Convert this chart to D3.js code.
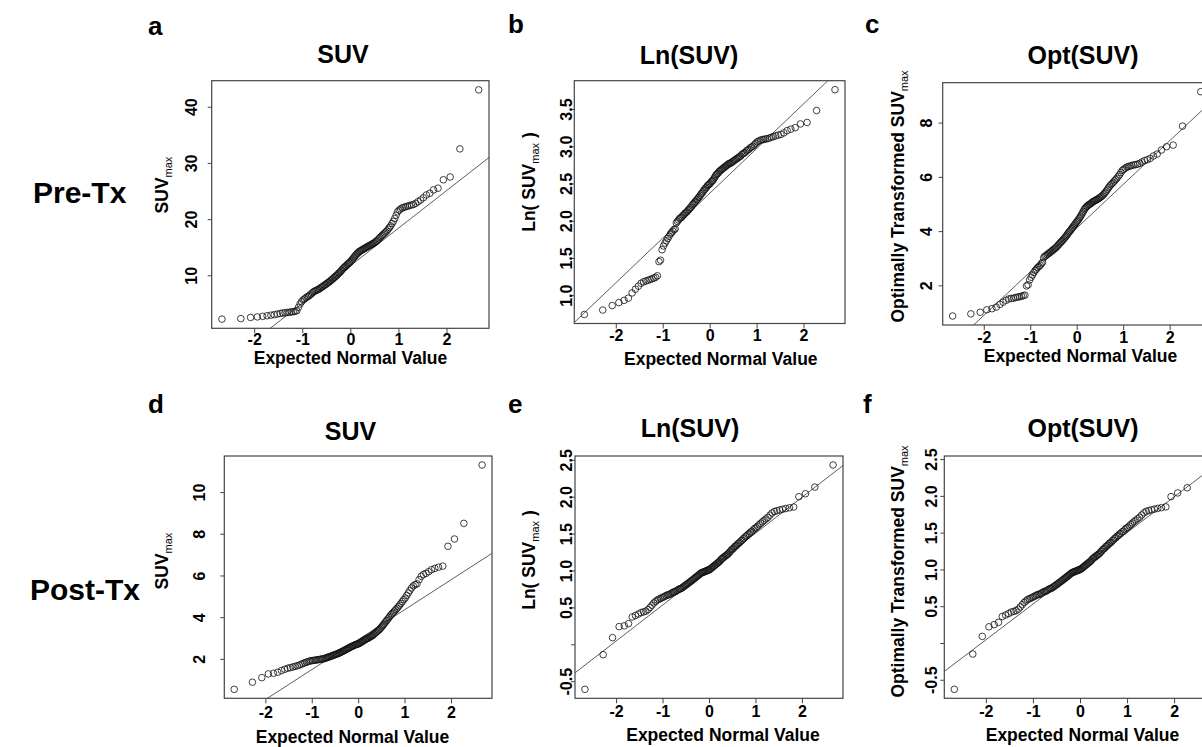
<!DOCTYPE html>
<html>
<head>
<meta charset="utf-8">
<script src="https://cdnjs.cloudflare.com/ajax/libs/d3/7.8.5/d3.min.js"></script>
<style>
body { margin: 0; background: #fff; }
svg { display: block; }
</style>
</head>
<body>
<svg id="chart" width="1202" height="747"></svg>
<script>
// sorted sample values (n = 132 per panel)
var preSuv = [
	2.2, 2.3, 2.5, 2.6, 2.7, 2.8, 2.9, 3.0, 3.1, 3.2,
	3.3, 3.3, 3.4, 3.4, 3.5, 3.5, 3.6, 3.7, 4.3, 4.9,
	5.3, 5.6, 5.8, 6.0, 6.2, 6.3, 6.5, 6.7, 6.9, 7.1,
	7.2, 7.3, 7.4, 7.5, 7.6, 7.8, 7.9, 8.0, 8.2, 8.3,
	8.4, 8.6, 8.7, 8.8, 9.0, 9.1, 9.3, 9.4, 9.6, 9.7,
	9.9, 10.0, 10.2, 10.4, 10.5, 10.7, 10.9, 11.1, 11.3, 11.4,
	11.6, 11.7, 11.9, 12.0, 12.2, 12.3, 12.5, 12.7, 12.9, 13.1,
	13.3, 13.5, 13.7, 13.9, 14.0, 14.2, 14.3, 14.4, 14.5, 14.6,
	14.7, 14.8, 14.9, 15.0, 15.1, 15.2, 15.3, 15.4, 15.5, 15.6,
	15.7, 15.8, 16.0, 16.1, 16.3, 16.5, 16.7, 16.9, 17.1, 17.3,
	17.5, 17.7, 17.9, 18.2, 18.5, 18.8, 19.2, 19.6, 20.1, 20.7,
	21.3, 21.6, 21.8, 22.0, 22.1, 22.2, 22.3, 22.4, 22.5, 22.6,
	22.8, 23.1, 23.4, 23.8, 24.3, 24.6, 25.2, 25.5, 27.0, 27.5, 32.5, 43.0
];
var preLn = [
	0.74, 0.80, 0.86, 0.90, 0.93, 0.96, 1.03, 1.08, 1.12, 1.16,
	1.18, 1.19, 1.20, 1.21, 1.22, 1.23, 1.24, 1.26, 1.45, 1.47,
	1.61, 1.66, 1.70, 1.73, 1.76, 1.79, 1.82, 1.84, 1.86, 1.88,
	1.89, 1.97, 1.99, 2.01, 2.03, 2.04, 2.05, 2.07, 2.08, 2.10,
	2.11, 2.12, 2.14, 2.15, 2.17, 2.18, 2.20, 2.22, 2.23, 2.25,
	2.26, 2.28, 2.29, 2.31, 2.32, 2.34, 2.36, 2.37, 2.39, 2.41,
	2.42, 2.44, 2.45, 2.47, 2.48, 2.49, 2.50, 2.52, 2.53, 2.54,
	2.56, 2.58, 2.60, 2.62, 2.63, 2.64, 2.66, 2.67, 2.68, 2.69,
	2.70, 2.71, 2.72, 2.73, 2.74, 2.75, 2.76, 2.77, 2.77, 2.78,
	2.79, 2.80, 2.81, 2.82, 2.83, 2.84, 2.85, 2.86, 2.87, 2.89,
	2.90, 2.91, 2.92, 2.94, 2.95, 2.96, 2.98, 2.99, 3.00, 3.02,
	3.04, 3.06, 3.07, 3.08, 3.09, 3.09, 3.10, 3.10, 3.11, 3.12,
	3.13, 3.14, 3.15, 3.16, 3.18, 3.21, 3.23, 3.25, 3.30, 3.32, 3.48, 3.76
];
var preOpt = [
	0.87, 0.95, 1.01, 1.10, 1.14, 1.20, 1.30, 1.38, 1.45, 1.50,
	1.52, 1.53, 1.55, 1.57, 1.58, 1.60, 1.62, 1.64, 1.98, 2.02,
	2.20, 2.30, 2.38, 2.47, 2.55, 2.60, 2.66, 2.70, 2.74, 2.80,
	2.85, 3.02, 3.07, 3.10, 3.13, 3.16, 3.19, 3.22, 3.25, 3.28,
	3.31, 3.34, 3.37, 3.40, 3.44, 3.48, 3.52, 3.56, 3.60, 3.63,
	3.67, 3.71, 3.75, 3.79, 3.83, 3.88, 3.93, 3.97, 4.01, 4.05,
	4.10, 4.14, 4.19, 4.23, 4.27, 4.32, 4.36, 4.40, 4.45, 4.50,
	4.55, 4.61, 4.67, 4.73, 4.79, 4.84, 4.88, 4.91, 4.94, 4.97,
	4.99, 5.01, 5.04, 5.07, 5.09, 5.11, 5.13, 5.15, 5.17, 5.19,
	5.22, 5.24, 5.27, 5.30, 5.34, 5.38, 5.43, 5.48, 5.54, 5.60,
	5.66, 5.71, 5.75, 5.80, 5.85, 5.90, 5.95, 6.02, 6.08, 6.16,
	6.24, 6.28, 6.32, 6.36, 6.38, 6.40, 6.42, 6.44, 6.45, 6.47,
	6.50, 6.55, 6.60, 6.63, 6.68, 6.77, 6.84, 6.99, 7.11, 7.17, 7.87, 9.14
];
var postSuv = [
	0.54, 0.88, 1.10, 1.28, 1.31, 1.36, 1.44, 1.50, 1.55, 1.58,
	1.61, 1.64, 1.67, 1.70, 1.74, 1.78, 1.81, 1.84, 1.87, 1.89,
	1.91, 1.92, 1.93, 1.94, 1.95, 1.96, 1.97, 1.98, 1.99, 2.00,
	2.01, 2.03, 2.05, 2.07, 2.09, 2.10, 2.12, 2.14, 2.16, 2.18,
	2.20, 2.21, 2.23, 2.25, 2.27, 2.29, 2.31, 2.34, 2.36, 2.38,
	2.41, 2.43, 2.45, 2.48, 2.50, 2.52, 2.55, 2.57, 2.59, 2.61,
	2.63, 2.65, 2.67, 2.69, 2.70, 2.71, 2.73, 2.75, 2.78, 2.80,
	2.83, 2.86, 2.89, 2.91, 2.94, 2.96, 2.98, 3.00, 3.03, 3.06,
	3.08, 3.11, 3.14, 3.18, 3.22, 3.26, 3.30, 3.34, 3.38, 3.42,
	3.47, 3.53, 3.59, 3.65, 3.71, 3.78, 3.84, 3.91, 3.98, 4.05,
	4.12, 4.18, 4.24, 4.30, 4.36, 4.43, 4.50, 4.58, 4.66, 4.75,
	4.84, 4.92, 5.04, 5.16, 5.28, 5.40, 5.50, 5.56, 5.60, 5.80,
	5.96, 6.05, 6.10, 6.18, 6.28, 6.34, 6.40, 6.45, 7.40, 7.75, 8.50, 11.30
];
var postLn = [
	-0.61, -0.14, 0.09, 0.24, 0.25, 0.28, 0.37, 0.39, 0.41, 0.43,
	0.44, 0.45, 0.47, 0.50, 0.53, 0.56, 0.58, 0.60, 0.61, 0.62,
	0.63, 0.64, 0.65, 0.66, 0.67, 0.67, 0.68, 0.69, 0.70, 0.71,
	0.71, 0.72, 0.73, 0.74, 0.75, 0.75, 0.76, 0.77, 0.78, 0.79,
	0.80, 0.81, 0.82, 0.83, 0.84, 0.85, 0.86, 0.87, 0.88, 0.89,
	0.90, 0.91, 0.92, 0.93, 0.94, 0.95, 0.96, 0.97, 0.97, 0.98,
	0.98, 0.99, 0.99, 1.00, 1.00, 1.01, 1.01, 1.02, 1.03, 1.04,
	1.05, 1.06, 1.07, 1.08, 1.09, 1.10, 1.11, 1.12, 1.13, 1.15,
	1.16, 1.17, 1.18, 1.19, 1.20, 1.21, 1.22, 1.23, 1.25, 1.26,
	1.28, 1.29, 1.30, 1.32, 1.33, 1.34, 1.36, 1.37, 1.38, 1.40,
	1.41, 1.43, 1.44, 1.46, 1.47, 1.49, 1.50, 1.52, 1.53, 1.55,
	1.57, 1.58, 1.60, 1.62, 1.64, 1.66, 1.68, 1.70, 1.72, 1.75,
	1.78, 1.80, 1.81, 1.82, 1.83, 1.84, 1.85, 1.86, 2.00, 2.04, 2.13, 2.43
];
var postOpt = [
	-0.63, -0.15, 0.09, 0.22, 0.25, 0.28, 0.36, 0.38, 0.40, 0.42,
	0.43, 0.44, 0.46, 0.49, 0.52, 0.55, 0.57, 0.59, 0.60, 0.61,
	0.62, 0.63, 0.64, 0.65, 0.66, 0.66, 0.67, 0.68, 0.69, 0.70,
	0.70, 0.71, 0.72, 0.73, 0.74, 0.74, 0.75, 0.76, 0.77, 0.78,
	0.79, 0.80, 0.81, 0.82, 0.83, 0.84, 0.85, 0.86, 0.87, 0.88,
	0.89, 0.90, 0.91, 0.92, 0.93, 0.94, 0.95, 0.96, 0.96, 0.97,
	0.97, 0.98, 0.98, 0.99, 0.99, 1.00, 1.00, 1.01, 1.02, 1.03,
	1.04, 1.05, 1.06, 1.07, 1.08, 1.09, 1.10, 1.11, 1.12, 1.14,
	1.15, 1.16, 1.17, 1.18, 1.19, 1.20, 1.21, 1.22, 1.24, 1.25,
	1.27, 1.28, 1.29, 1.31, 1.32, 1.33, 1.35, 1.36, 1.37, 1.39,
	1.40, 1.42, 1.43, 1.45, 1.46, 1.48, 1.49, 1.51, 1.52, 1.54,
	1.56, 1.57, 1.59, 1.61, 1.63, 1.65, 1.67, 1.69, 1.71, 1.74,
	1.77, 1.79, 1.80, 1.81, 1.82, 1.83, 1.84, 1.85, 1.99, 2.04, 2.11, 2.42
];

// reference lines as [intercept, slope]
var refLines = [[11.7, 6.68], [2.367, 0.601], [4.11, 1.61], [2.92, 1.436], [1.018, 0.487], [1.015, 0.486]];

var panelLetters = ["a", "b", "c", "d", "e", "f"];
var panelTitles = ["SUV", "Ln(SUV)", "Opt(SUV)", "SUV", "Ln(SUV)", "Opt(SUV)"];
var rowLabels = ["Pre-Tx", "Post-Tx"];
var xTitle = "Expected Normal Value";
var yTitles = [["SUV", ""], ["Ln( SUV", " )"], ["Optimally Transformed SUV", ""],
	["SUV", ""], ["Ln( SUV", " )"], ["Optimally Transformed SUV", ""]];
var xTicks = [-2, -1, 0, 1, 2];
var xTickLabels = ["-2", "-1", "0", "1", "2"];
var yTicks = [
	[10, 20, 30, 40],
	[1.0, 1.5, 2.0, 2.5, 3.0, 3.5],
	[2, 4, 6, 8],
	[2, 4, 6, 8, 10],
	[-0.5, 0, 0.5, 1.0, 1.5, 2.0, 2.5],
	[-0.5, 0, 0.5, 1.0, 1.5, 2.0, 2.5]
];
var yTickLabels = [
	["10", "20", "30", "40"],
	["1.0", "1.5", "2.0", "2.5", "3.0", "3.5"],
	["2", "4", "6", "8"],
	["2", "4", "6", "8", "10"],
	["-0.5", "", "0.5", "1.0", "1.5", "2.0", "2.5"],
	["-0.5", "", "0.5", "1.0", "1.5", "2.0", "2.5"]
];

// page layout of each panel (the figure is a composite, so each one sits a bit differently)
var layout = [
	{ box: [211.7, 489, 80.7, 328.3], letter: [148, 35], title: [343, 63], xLab: 17, xTitle: [350.5, 364], yLab: 197, yTitle: [168, 185] },
	{ box: [574.3, 845, 80.7, 323.5], letter: [508, 33], title: [689, 64], xLab: 17.5, xTitle: [720.8, 365], yLab: 571.7, yTitle: [535, 182] },
	{ box: [942.7, 1210.7, 82.7, 325], letter: [865, 33], title: [1083, 64], xLab: 18, xTitle: [1080.5, 362], yLab: 931.7, yTitle: [904, 196.5] },
	{ box: [224.3, 492, 456, 698.3], letter: [148, 413], title: [350.5, 440], xLab: 20, xTitle: [352.5, 743], yLab: 205, yTitle: [168, 561] },
	{ box: [575, 843, 456, 698.3], letter: [508, 413], title: [690, 437], xLab: 19, xTitle: [723, 741], yLab: 571.7, yTitle: [535, 560] },
	{ box: [944.3, 1215.7, 456, 698.3], letter: [863, 413], title: [1083, 437], xLab: 19, xTitle: [1082.5, 741], yLab: 936.7, yTitle: [904, 571.5] }
];
var rowLabelPos = [[33, 203], [30, 600]];

var FONT = "'Liberation Sans', Arial, Helvetica, sans-serif";
var series = [preSuv, preLn, preOpt, postSuv, postLn, postOpt];

// inverse normal cdf (Acklam), used for the expected normal scores of each rank
function qnorm(p){
	var a = [-39.69683028665376, 220.9460984245205, -275.9285104469687, 138.3577518672690, -30.66479806614716, 2.506628277459239];
	var b = [-54.47609879822406, 161.5858368580409, -155.6989798598866, 66.80131188771972, -13.28068155288572];
	var c = [-0.007784894002430293, -0.3223964580411365, -2.400758277161838, -2.549732539343734, 4.374664141464968, 2.938163982698783];
	var d = [0.007784695709041462, 0.3224671290700398, 2.445134137142996, 3.754408661907416];
	var q, r;
	if (p < 0.02425) {
		q = Math.sqrt(-2 * Math.log(p));
		return (((((c[0]*q+c[1])*q+c[2])*q+c[3])*q+c[4])*q+c[5]) / ((((d[0]*q+d[1])*q+d[2])*q+d[3])*q+1);
	}
	if (p > 1 - 0.02425) return -qnorm(1 - p);
	q = p - 0.5; r = q * q;
	return (((((a[0]*r+a[1])*r+a[2])*r+a[3])*r+a[4])*r+a[5])*q / (((((b[0]*r+b[1])*r+b[2])*r+b[3])*r+b[4])*r+1);
}

var svg = d3.select("#chart").attr("font-family", FONT);

function drawPanel(k){
	var values = series[k], L = layout[k], box = L.box;
	var n = values.length;
	var pts = values.map(function(v, i){ return { x: qnorm((i + 0.5) / n), y: v }; });

	// same padding rule as base R plots: data range +/- 4%
	var xr = d3.extent(pts, function(d){ return d.x; });
	var yr = d3.extent(pts, function(d){ return d.y; });
	var xp = (xr[1] - xr[0]) * 0.04, yp = (yr[1] - yr[0]) * 0.04;
	var x = d3.scaleLinear().domain([xr[0] - xp, xr[1] + xp]).range([box[0], box[1]]);
	var y = d3.scaleLinear().domain([yr[0] - yp, yr[1] + yp]).range([box[3], box[2]]);

	var g = svg.append("g").attr("class", "panel-" + panelLetters[k]);
	var clipId = "clip-" + panelLetters[k];
	g.append("clipPath").attr("id", clipId).append("rect")
		.attr("x", box[0]).attr("y", box[2])
		.attr("width", box[1] - box[0]).attr("height", box[3] - box[2]);

	// qq reference line
	var ln = refLines[k], dom = x.domain();
	g.append("line")
		.attr("clip-path", "url(#" + clipId + ")")
		.attr("x1", x(dom[0])).attr("y1", y(ln[0] + ln[1] * dom[0]))
		.attr("x2", x(dom[1])).attr("y2", y(ln[0] + ln[1] * dom[1]))
		.attr("stroke", "#333").attr("stroke-width", 0.8);

	g.append("g").selectAll("circle").data(pts).enter().append("circle")
		.attr("cx", function(d){ return x(d.x); })
		.attr("cy", function(d){ return y(d.y); })
		.attr("r", 3.3)
		.attr("fill", "none").attr("stroke", "#111").attr("stroke-width", 0.8);

	g.append("rect")
		.attr("x", box[0]).attr("y", box[2])
		.attr("width", box[1] - box[0]).attr("height", box[3] - box[2])
		.attr("fill", "none").attr("stroke", "#444").attr("stroke-width", 1.2);

	// x axis
	var xa = g.append("g").attr("transform", "translate(0," + box[3] + ")")
		.call(d3.axisBottom(x).tickValues(xTicks).tickSize(5)
			.tickFormat(function(d, i){ return xTickLabels[i]; }));
	xa.attr("font-family", FONT).attr("font-size", 16).attr("font-weight", "bold");
	xa.select(".domain").remove();
	xa.selectAll(".tick line").attr("stroke", "#444");
	xa.selectAll(".tick text").attr("y", L.xLab).attr("dy", null).attr("fill", "#000");

	// y axis, labels parallel to the axis
	var ya = g.append("g").attr("transform", "translate(" + box[0] + ",0)")
		.call(d3.axisLeft(y).tickValues(yTicks[k]).tickSize(4)
			.tickFormat(function(d, i){ return yTickLabels[k][i]; }));
	ya.attr("font-family", FONT).attr("font-size", 16).attr("font-weight", "bold");
	ya.select(".domain").remove();
	ya.selectAll(".tick line").attr("stroke", "#444");
	ya.selectAll(".tick text")
		.attr("x", null).attr("dy", null)
		.attr("text-anchor", "middle").attr("fill", "#000")
		.attr("transform", "translate(" + (L.yLab - box[0]) + ",0) rotate(-90)");

	// titles
	g.append("text").attr("x", L.letter[0]).attr("y", L.letter[1])
		.attr("font-size", 26).attr("font-weight", "bold").text(panelLetters[k]);
	g.append("text").attr("x", L.title[0]).attr("y", L.title[1])
		.attr("text-anchor", "middle").attr("font-size", 25).attr("font-weight", "bold")
		.text(panelTitles[k]);
	g.append("text").attr("x", L.xTitle[0]).attr("y", L.xTitle[1])
		.attr("text-anchor", "middle").attr("font-size", 17.5).attr("font-weight", "bold")
		.text(xTitle);

	var yt = g.append("text")
		.attr("transform", "translate(" + L.yTitle[0] + "," + L.yTitle[1] + ") rotate(-90)")
		.attr("text-anchor", "middle").attr("font-size", 17.5).attr("font-weight", "bold");
	yt.append("tspan").text(yTitles[k][0]);
	yt.append("tspan").attr("font-size", 11).attr("font-weight", "normal").attr("dy", 4).text("max");
	if (yTitles[k][1]) yt.append("tspan").attr("dy", -4).text(yTitles[k][1]);
}

for (var k = 0; k < series.length; k++) drawPanel(k);

svg.selectAll("text.row").data(rowLabels).enter().append("text")
	.attr("class", "row")
	.attr("x", function(d, i){ return rowLabelPos[i][0]; })
	.attr("y", function(d, i){ return rowLabelPos[i][1]; })
	.attr("font-size", 30).attr("font-weight", "bold")
	.text(function(d){ return d; });
</script>
</body>
</html>
